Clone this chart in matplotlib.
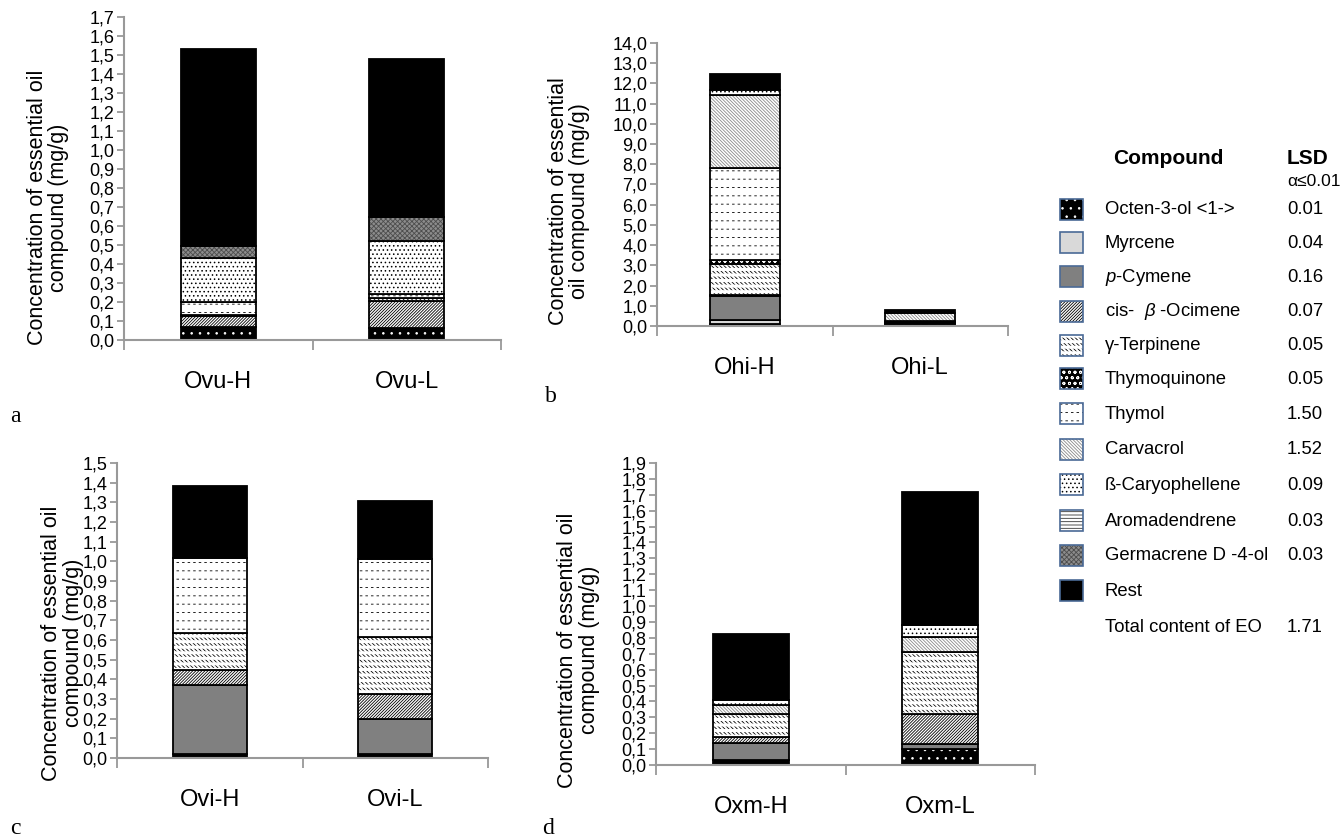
import numpy as np
import matplotlib
matplotlib.use("Agg")
from matplotlib import pyplot as plt
from matplotlib.patches import Rectangle

plt.rcParams["font.family"] = ["Liberation Sans", "DejaVu Sans"]
plt.rcParams["mathtext.fontset"] = "custom"
plt.rcParams["mathtext.rm"] = "Liberation Sans"
plt.rcParams["mathtext.it"] = "Liberation Sans:italic"
plt.rcParams["hatch.linewidth"] = 0.6

# compounds, bottom to top of every stacked bar
compounds = [
    "Octen-3-ol <1->", "Myrcene", "$\\it{p}$-Cymene", "cis-  $\\it{\\beta}$ -Ocimene",
    "γ-Terpinene", "Thymoquinone", "Thymol", "Carvacrol", "ß-Caryophellene",
    "Aromadendrene", "Germacrene D -4-ol", "Rest",
]
lsd = ["0.01", "0.04", "0.16", "0.07", "0.05", "0.05", "1.50", "1.52", "0.09",
       "0.03", "0.03", ""]
total_lsd = "1.71"

# segment heights (mg/g) in compound order
samples_a = ["Ovu-H", "Ovu-L"]
ovu_h = [0.068, 0, 0, 0.056, 0.010, 0, 0.064, 0, 0.235, 0, 0.060, 1.037]
ovu_l = [0.062, 0, 0, 0.141, 0.020, 0, 0.017, 0, 0.282, 0, 0.123, 0.833]

samples_b = ["Ohi-H", "Ohi-L"]
ohi_h = [0.12, 0.18, 1.18, 0.05, 1.55, 0.19, 4.53, 3.61, 0.28, 0, 0, 0.79]
ohi_l = [0.08, 0, 0.07, 0, 0.05, 0, 0.03, 0.41, 0, 0, 0, 0.13]

samples_c = ["Ovi-H", "Ovi-L"]
ovi_h = [0.020, 0, 0.350, 0.077, 0.190, 0, 0.382, 0, 0, 0, 0, 0.365]
ovi_l = [0.018, 0, 0.179, 0.126, 0.293, 0, 0.394, 0, 0, 0, 0, 0.299]

samples_d = ["Oxm-H", "Oxm-L"]
oxm_h = [0.031, 0, 0.105, 0.042, 0.141, 0, 0, 0.058, 0.030, 0, 0, 0.415]
oxm_l = [0.100, 0, 0.034, 0.190, 0.390, 0, 0, 0.092, 0.074, 0, 0, 0.840]

# (face colour, hatch colour, hatch, white cut-out hatch) per compound
styles = [
    ("black", "white", "..", None),
    ("#d9d9d9", "black", None, None),
    ("#808080", "black", None, None),
    ("white", "black", "/" * 11, None),
    ("white", "black", "\\" * 8, "---"),
    ("black", "white", "ooo", None),
    ("white", "black", "--", "|||"),
    ("white", "#8a8a8a", "\\" * 10, None),
    ("white", "black", "....", None),
    ("white", "#333333", "-" * 5, None),
    ("#8c8c8c", "#4d4d4d", "x" * 7, None),
    ("black", "black", None, None),
]


def add_cut(patch):
    # white overlay hatch that breaks the black hatch lines into dashes
    if hasattr(patch, "set_hatch_linewidth"):
        patch.set_hatch_linewidth(2.2)


def draw_panel(fig, rect, samples, data, ymax, step, ylabel, label_xy):
    ax = fig.add_axes(rect)
    x = np.arange(len(samples))
    bottom = np.zeros(len(samples))
    values = np.array(data)
    for i, (face, hc, hatch, cut) in enumerate(styles):
        heights = values[:, i]
        for xi, h, b in zip(x, heights, bottom):
            if h <= 0:
                continue
            ax.bar(xi, h, bottom=b, width=0.4, color=face, edgecolor=hc,
                   hatch=hatch, linewidth=0)
            if cut:
                bars = ax.bar(xi, h, bottom=b, width=0.4, fill=False,
                              edgecolor="white", hatch=cut, linewidth=0)
                add_cut(bars[0])
            ax.bar(xi, h, bottom=b, width=0.4, fill=False, edgecolor="black",
                   linewidth=1.3)
        bottom += heights

    ax.set_xlim(-0.5, 1.5)
    ax.set_ylim(0, ymax)
    ticks = np.arange(0, ymax + step / 2, step)
    ax.set_yticks(ticks)
    ax.set_yticklabels([f"{t:.1f}".replace(".", ",") for t in ticks], fontsize=13)
    ax.set_xticks([-0.5, 0.5, 1.5])
    ax.set_xticklabels([])
    ax.set_xticks(x, minor=True)
    ax.set_xticklabels(samples, minor=True, fontsize=17)
    ax.tick_params(axis="x", which="major", length=7, width=1.3, color="#999999")
    ax.tick_params(axis="x", which="minor", length=0, pad=22)
    ax.tick_params(axis="y", length=5, width=1.3, color="#999999", pad=2)
    for side in ["top", "right"]:
        ax.spines[side].set_visible(False)
    for side in ["left", "bottom"]:
        ax.spines[side].set_color("#999999")
        ax.spines[side].set_linewidth(1.5)
    ax.set_ylabel(ylabel, fontsize=15.5, multialignment="center",
                  linespacing=1.05)
    ax.yaxis.set_label_coords(*label_xy)
    return ax


W, H = 1344, 839
fig = plt.figure(figsize=(W / 100, H / 100), dpi=100)


def frac(left, top, right, bottom):
    return [left / W, 1 - bottom / H, (right - left) / W, (bottom - top) / H]


label_1 = "Concentration of essential oil\ncompound (mg/g)"
label_2 = "Concentration of essential\noil compound (mg/g)"

draw_panel(fig, frac(124, 17, 501, 340), samples_a, [ovu_h, ovu_l], 1.7, 0.1,
           label_1, (-0.145, 0.41))
draw_panel(fig, frac(657, 43, 1008, 326), samples_b, [ohi_h, ohi_l], 14.0, 1.0,
           label_2, (-0.19, 0.44))
draw_panel(fig, frac(117, 463, 488, 758), samples_c, [ovi_h, ovi_l], 1.5, 0.1,
           label_1, (-0.09, 0.39))
draw_panel(fig, frac(656, 463, 1035, 765), samples_d, [oxm_h, oxm_l], 1.9, 0.1,
           label_1, (-0.148, 0.38))

# panel letters
for letter, px, py in [("a", 10, 417), ("b", 545, 397), ("c", 10, 828), ("d", 542, 828)]:
    fig.text(px / W, 1 - py / H, letter, fontsize=17, family="Liberation Serif",
             ha="left", va="center")

# legend table
fig.text(1168 / W, 1 - 159 / H, "Compound", fontsize=15, weight="bold",
         ha="center", va="center")
fig.text(1287 / W, 1 - 159 / H, "LSD", fontsize=15, weight="bold",
         ha="left", va="center")
fig.text(1287 / W, 1 - 182 / H, "α≤0.01", fontsize=12.5, ha="left", va="center")

row_y = [210, 243, 277, 312, 346, 379, 414, 450, 485, 521, 556, 591]
for name, value, (face, hc, hatch, cut), y in zip(compounds, lsd, styles, row_y):
    box = (1060 / W, 1 - (y + 10) / H)
    fig.add_artist(Rectangle(box, 23 / W, 21 / H, transform=fig.transFigure,
                             facecolor=face, edgecolor=hc, hatch=hatch,
                             linewidth=0))
    if cut:
        patch = Rectangle(box, 23 / W, 21 / H, transform=fig.transFigure,
                          fill=False, edgecolor="white", hatch=cut, linewidth=0)
        add_cut(patch)
        fig.add_artist(patch)
    fig.add_artist(Rectangle(box, 23 / W, 21 / H, transform=fig.transFigure,
                             fill=False, edgecolor="#4a6a96", linewidth=1.2))
    fig.text(1105 / W, 1 - y / H, name, fontsize=13.3, ha="left", va="center")
    fig.text(1287 / W, 1 - y / H, value, fontsize=13.3, ha="left", va="center")
fig.text(1105 / W, 1 - 627 / H, "Total content of EO", fontsize=13.3,
         ha="left", va="center")
fig.text(1287 / W, 1 - 627 / H, total_lsd, fontsize=13.3, ha="left", va="center")

fig.savefig("out.png", dpi=100)
